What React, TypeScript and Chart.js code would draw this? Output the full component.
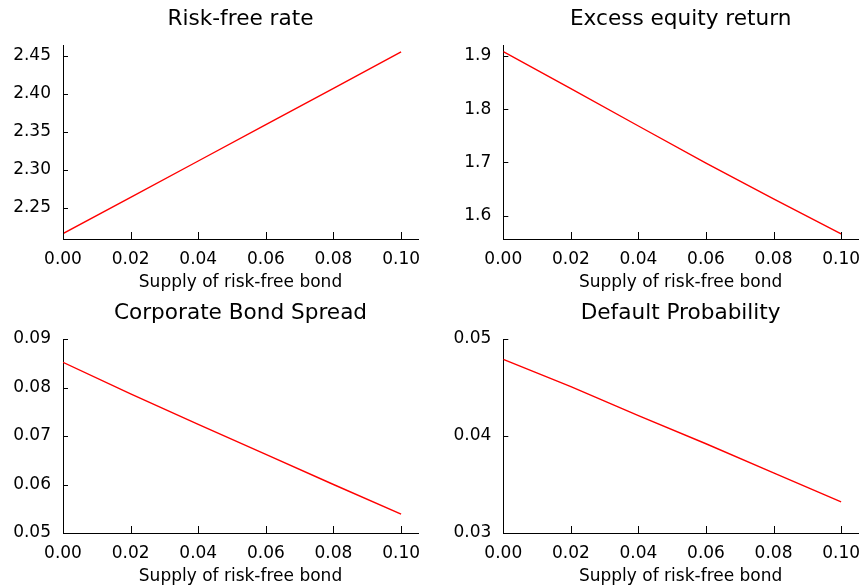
import React, { useEffect, useRef } from "react";
import { Chart, registerables } from "chart.js";

Chart.register(...registerables);

// ---- data ----
const supply = [0, 0.02, 0.04, 0.06, 0.08, 0.1];
const riskFreeRate = [2.2163, 2.2639, 2.3116, 2.3593, 2.407, 2.455];
const excessEquityReturn = [1.908, 1.8385, 1.7684, 1.6985, 1.6314, 1.5656];
const corporateBondSpread = [0.0852, 0.0787, 0.0724, 0.0662, 0.06, 0.0539];
const defaultProbability = [0.0479, 0.0451, 0.0421, 0.0392, 0.0362, 0.0332];

const xTicks = [0, 0.02, 0.04, 0.06, 0.08, 0.1];
const yTicksRf = [2.25, 2.3, 2.35, 2.4, 2.45];
const yTicksEq = [1.6, 1.7, 1.8, 1.9];
const yTicksBs = [0.05, 0.06, 0.07, 0.08, 0.09];
const yTicksDp = [0.03, 0.04, 0.05];

const titles = [
  "Risk-free rate",
  "Excess equity return",
  "Corporate Bond Spread",
  "Default Probability",
];
const xLabel = "Supply of risk-free bond";

const FONT = "'DejaVu Sans', sans-serif";

type PanelCfg = {
  title: string;
  values: number[];
  yTicks: number[];
  yDecimals: number;
  yMin: number;
  yMax: number;
  yWidth: number;
  padRight: number;
  left: number;
  top: number;
};

const innerTicks = {
  id: "innerTicks",
  afterDraw(chart: any) {
    const ctx = chart.ctx;
    const area = chart.chartArea;
    const xs = chart.scales.x;
    const ys = chart.scales.y;
    ctx.save();
    ctx.strokeStyle = "#000";
    ctx.lineWidth = 1;
    ctx.beginPath();
    xs.ticks.forEach((t: any) => {
      const px = Math.round(xs.getPixelForValue(t.value)) + 0.5;
      ctx.moveTo(px, area.bottom);
      ctx.lineTo(px, area.bottom - 7);
    });
    ys.ticks.forEach((t: any) => {
      const py = Math.round(ys.getPixelForValue(t.value)) + 0.5;
      ctx.moveTo(area.left, py);
      ctx.lineTo(area.left + 5, py);
    });
    ctx.stroke();
    ctx.restore();
  },
};

function Panel({ cfg }: { cfg: PanelCfg }) {
  const ref = useRef<HTMLCanvasElement | null>(null);
  useEffect(() => {
    if (!ref.current) return;
    const chart = new Chart(ref.current, {
      type: "line",
      data: {
        datasets: [
          {
            data: supply.map((x, i) => ({ x, y: cfg.values[i] })),
            borderColor: "#ff0000",
            borderWidth: 1.4,
            pointRadius: 0,
            tension: 0,
            fill: false,
          },
        ],
      },
      options: {
        animation: false,
        responsive: false,
        devicePixelRatio: 1,
        layout: { padding: { top: 0, left: 0, right: cfg.padRight, bottom: 0 } },
        plugins: {
          legend: { display: false },
          tooltip: { enabled: false },
          title: {
            display: true,
            text: cfg.title,
            fullSize: false,
            color: "#000",
            font: { family: FONT, size: 21.6, weight: "normal", lineHeight: 1.2 },
            padding: { top: 6.2, bottom: 12.9 },
          },
        },
        scales: {
          x: {
            type: "linear",
            min: 0,
            max: 0.105,
            afterBuildTicks: (s: any) => {
              s.ticks = xTicks.map((v) => ({ value: v }));
            },
            afterFit: (s: any) => {
              s.height = 55;
              s.paddingLeft = 0;
              s.paddingRight = 0;
            },
            grid: { display: false, drawTicks: false },
            border: { display: true, color: "#000", width: 1 },
            ticks: {
              color: "#000",
              padding: 10,
              maxRotation: 0,
              autoSkip: false,
              font: { family: FONT, size: 17 },
              callback: (v: any) => Number(v).toFixed(2),
            },
            title: {
              display: true,
              text: xLabel,
              color: "#000",
              font: { family: FONT, size: 17, lineHeight: 1.2 },
              padding: { top: 0, bottom: 1 },
            },
          },
          y: {
            type: "linear",
            min: cfg.yMin,
            max: cfg.yMax,
            afterBuildTicks: (s: any) => {
              s.ticks = cfg.yTicks.map((v) => ({ value: v }));
            },
            afterFit: (s: any) => {
              s.width = cfg.yWidth;
              s.paddingTop = 0;
              s.paddingBottom = 0;
            },
            grid: { display: false, drawTicks: false },
            border: { display: true, color: "#000", width: 1 },
            ticks: {
              color: "#000",
              padding: 12,
              autoSkip: false,
              font: { family: FONT, size: 17 },
              callback: (v: any) => Number(v).toFixed(cfg.yDecimals),
            },
          },
        },
      },
      plugins: [innerTicks],
    } as any);
    return () => chart.destroy();
  }, [cfg]);
  return (
    <canvas
      ref={ref}
      width={432}
      height={294}
      style={{ position: "absolute", left: cfg.left, top: cfg.top, width: 432, height: 294 }}
    />
  );
}

const panels: PanelCfg[] = [
  { title: titles[0], values: riskFreeRate, yTicks: yTicksRf, yDecimals: 2, yMin: 2.2091, yMax: 2.464, yWidth: 63, padRight: 14, left: 0, top: 0 },
  { title: titles[1], values: excessEquityReturn, yTicks: yTicksEq, yDecimals: 1, yMin: 1.5562, yMax: 1.9205, yWidth: 71.3, padRight: 6, left: 432, top: 0 },
  { title: titles[2], values: corporateBondSpread, yTicks: yTicksBs, yDecimals: 2, yMin: 0.05, yMax: 0.09, yWidth: 63, padRight: 14, left: 0, top: 294 },
  { title: titles[3], values: defaultProbability, yTicks: yTicksDp, yDecimals: 2, yMin: 0.03, yMax: 0.05, yWidth: 71.3, padRight: 6, left: 432, top: 294 },
];

export default function App() {
  return (
    <div style={{ position: "fixed", left: 0, top: 0, width: 864, height: 588, background: "#fff" }}>
      {panels.map((p, i) => (
        <Panel key={i} cfg={p} />
      ))}
    </div>
  );
}
